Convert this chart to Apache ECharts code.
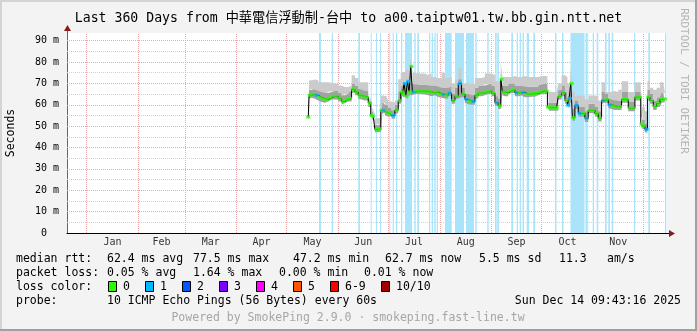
<!DOCTYPE html>
<html><head><meta charset="utf-8">
<script src="https://cdn.jsdelivr.net/npm/echarts@6/dist/echarts.min.js"></script>
<style>html,body{margin:0;padding:0;background:#f3f3f3}#c{width:697px;height:331px}</style>
</head><body><div id="c"></div>
<script>
const titleText = 'Last 360 Days from 中華電信浮動制-台中 to a00.taiptw01.tw.bb.gin.ntt.net';
const xStart = '2024-12-20 06:00';
const xEnd = '2025-12-15 06:00';
const monthStarts = ['2025-01-01','2025-02-01','2025-03-01','2025-04-01','2025-05-01','2025-06-01','2025-07-01','2025-08-01','2025-09-01','2025-10-01','2025-11-01','2025-12-01'];
const monthLabels = ['Jan','Feb','Mar','Apr','May','Jun','Jul','Aug','Sep','Oct','Nov'];
const monthLabelDates = ['2025-01-16 12:00','2025-02-15','2025-03-16 12:00','2025-04-16','2025-05-16 12:00','2025-06-16','2025-07-16 12:00','2025-08-16 12:00','2025-09-16','2025-10-16 12:00','2025-11-16'];
const yMax = 93.6;
const majorTicks = [10,20,30,40,50,60,70,80,90];
const minorTicks = [5,15,25,35,45,55,65,75,85];

const dates = ['2025-05-14','2025-05-15','2025-05-17','2025-05-19','2025-05-21','2025-05-23','2025-05-25','2025-05-27','2025-05-29','2025-05-31',
'2025-06-02','2025-06-04','2025-06-06','2025-06-08','2025-06-10','2025-06-12','2025-06-14','2025-06-16','2025-06-18','2025-06-20',
'2025-06-21','2025-06-22','2025-06-24','2025-06-26','2025-06-27','2025-06-28','2025-06-30','2025-07-02','2025-07-04','2025-07-06',
'2025-07-08','2025-07-09','2025-07-10','2025-07-11','2025-07-12','2025-07-13','2025-07-14','2025-07-15','2025-07-16','2025-07-18',
'2025-07-20','2025-07-22','2025-07-24','2025-07-26','2025-07-28','2025-07-30','2025-08-01','2025-08-03','2025-08-05','2025-08-07',
'2025-08-09','2025-08-11','2025-08-13','2025-08-15','2025-08-17','2025-08-19','2025-08-21','2025-08-23','2025-08-25','2025-08-27',
'2025-08-29','2025-08-31','2025-09-02','2025-09-04','2025-09-06','2025-09-07','2025-09-08','2025-09-10','2025-09-12','2025-09-14',
'2025-09-16','2025-09-18','2025-09-20','2025-09-22','2025-09-24','2025-09-26','2025-09-28','2025-09-30','2025-10-02','2025-10-04',
'2025-10-05','2025-10-06','2025-10-08','2025-10-10','2025-10-12','2025-10-14','2025-10-16','2025-10-17','2025-10-18','2025-10-19',
'2025-10-20','2025-10-22','2025-10-24','2025-10-26','2025-10-28','2025-10-30','2025-11-01','2025-11-03','2025-11-05','2025-11-07',
'2025-11-09','2025-11-11','2025-11-13','2025-11-15','2025-11-17','2025-11-19','2025-11-21','2025-11-23','2025-11-25','2025-11-27',
'2025-11-29','2025-11-30','2025-12-01','2025-12-03','2025-12-04','2025-12-06','2025-12-08','2025-12-10','2025-12-12','2025-12-14'];

const median = [54.3,64.5,64.9,64.4,63.6,62.9,62.5,63.2,64.0,64.0,
63.0,61.6,62.4,63.0,67.2,66.0,64.4,64.0,63.6,60.8,
55.0,54.6,48.4,48.8,57.4,57.4,56.6,56.0,55.0,57.5,
62.0,66.0,65.0,70.0,64.0,71.0,66.0,78.0,66.0,66.4,
66.4,66.4,66.2,66.0,65.6,66.0,65.2,64.8,64.5,65.5,
62.0,64.0,70.0,65.0,62.5,61.8,61.5,64.5,65.5,65.6,
66.0,66.5,65.5,61.0,59.5,72.0,66.0,65.6,66.5,67.0,
65.6,65.6,65.8,65.0,65.0,65.3,65.3,66.0,66.4,66.4,
59.0,58.7,58.7,58.7,64.0,65.6,62.0,59.8,63.0,70.0,
54.0,59.8,56.0,55.9,53.7,57.4,57.4,55.9,53.7,62.0,
62.5,60.0,59.5,59.1,59.1,62.5,62.5,58.4,58.4,63.6,
63.6,51.0,50.0,48.5,63.6,62.0,59.1,60.6,62.5,62.7];

const smokeLo = [53.5,63.0,63.3,62.8,62.0,61.3,61.0,61.6,62.5,62.5,
61.5,60.0,60.8,61.5,65.6,64.5,62.8,62.5,62.0,59.0,
53.5,53.0,47.0,47.3,56.0,56.0,55.0,54.5,53.5,56.0,
60.5,64.5,63.5,64.0,62.5,64.0,64.5,65.0,64.5,65.0,
65.0,65.0,64.8,64.5,64.0,64.5,63.7,63.3,63.0,64.0,
60.5,62.5,63.0,63.5,61.0,60.3,60.0,63.0,64.0,64.0,
64.5,65.0,64.0,59.5,58.0,66.0,64.5,64.0,65.0,65.5,
64.0,64.0,64.3,63.5,63.5,63.8,63.8,64.5,65.0,65.0,
57.5,57.2,57.2,57.2,62.5,64.0,60.5,58.3,61.5,60.0,
52.5,58.0,54.5,54.4,52.0,56.0,56.0,54.4,52.2,60.5,
61.0,58.5,58.0,57.6,57.6,61.0,61.0,57.0,57.0,62.0,
62.0,49.5,48.5,47.0,62.0,60.5,57.6,59.0,61.0,61.2];

const smokeMid = [55.0,67.0,67.5,67.0,66.5,66.0,65.5,66.0,66.5,66.5,
65.5,64.5,65.0,66.0,70.0,69.0,67.5,67.0,66.5,62.0,
57.0,56.5,50.5,51.0,61.0,61.0,60.0,58.5,57.5,60.0,
66.0,69.0,69.0,72.0,70.0,73.0,70.0,76.0,70.0,69.5,
69.5,69.5,69.5,69.0,69.0,69.0,68.5,68.0,68.0,68.5,
65.0,68.0,72.0,68.0,65.0,65.0,64.5,68.0,69.0,69.0,
69.5,70.0,69.0,64.0,63.0,75.0,69.0,69.0,70.0,70.0,
69.0,69.0,69.0,68.5,68.5,68.5,68.5,69.5,70.0,70.0,
61.0,61.0,61.0,61.0,67.0,69.0,66.0,63.0,66.0,72.0,
58.0,62.0,59.0,59.0,57.0,60.5,60.5,59.0,57.0,66.0,
65.0,63.0,62.5,62.0,62.0,66.0,66.0,61.5,61.5,66.0,
66.0,55.0,53.0,51.0,67.0,65.0,62.0,63.5,65.5,65.5];

const smokeHi = [55.5,71.5,71.8,71.5,70.5,70.5,70.5,70.3,70.0,70.0,
69.0,68.3,68.3,69.0,73.8,72.5,70.5,70.5,70.5,63.0,
58.5,58.0,53.7,54.0,64.4,64.4,64.0,61.5,61.0,62.0,
72.0,75.0,75.4,75.5,76.0,77.0,76.0,82.0,75.0,74.6,
74.6,74.6,74.0,74.6,73.0,72.5,72.5,75.0,72.5,73.0,
70.0,71.5,77.0,70.0,69.8,69.8,69.8,72.5,72.5,73.0,
74.6,74.6,74.0,71.0,71.0,80.0,73.0,73.0,73.0,73.5,
73.0,73.0,73.5,73.0,73.0,73.0,73.0,73.5,73.5,73.5,
66.0,66.0,66.0,66.0,70.0,73.8,73.0,70.0,70.0,77.0,
66.0,64.4,64.4,64.4,62.5,64.4,64.4,64.0,62.0,70.5,
66.0,66.0,66.5,66.0,67.0,71.0,71.0,66.0,66.0,70.5,
70.5,60.0,58.8,57.0,71.0,68.0,67.0,68.0,70.5,70.5];

const loss = [0,0,0,1,0,0,0,0,0,0,
0,0,0,0,0,0,0,0,0,0,
0,0,0,0,0,1,0,0,1,0,
0,0,0,1,0,1,0,0,1,0,
0,0,0,0,0,0,0,1,0,1,
0,0,1,0,1,0,1,0,0,0,
0,0,0,1,0,0,0,0,0,0,
1,0,1,0,0,0,0,0,0,0,
0,0,0,0,0,0,0,1,1,0,
0,1,1,0,1,0,0,0,0,1,
0,1,0,0,0,0,0,0,0,0,
0,0,0,1,0,0,0,0,0,0];

const outages = [
['2025-05-20 10:00','2025-05-21 15:00'],['2025-05-28 01:30','2025-05-28 20:00'],['2025-06-13 00:00','2025-06-14 01:00'],
['2025-06-20 11:00','2025-06-21 01:30'],['2025-06-23 15:30','2025-06-24 06:00'],['2025-06-26 01:00','2025-06-26 15:30'],
['2025-07-01 15:00','2025-07-02 05:00'],['2025-07-03 16:00','2025-07-04 08:00'],['2025-07-05 15:00','2025-07-06 10:00'],
['2025-07-08 15:00','2025-07-09 10:00'],['2025-07-11 01:00','2025-07-15 06:00'],['2025-07-16 15:00','2025-07-17 11:00'],
['2025-07-18 10:00','2025-07-19 10:30'],['2025-07-25 10:30','2025-07-26 05:00'],['2025-07-27 01:30','2025-07-27 20:00'],
['2025-07-28 15:00','2025-07-29 11:00'],['2025-07-30 01:30','2025-07-30 20:00'],['2025-08-04 01:00','2025-08-08 01:30'],
['2025-08-10 01:00','2025-08-15 10:30'],['2025-08-16 15:30','2025-08-21 10:30'],['2025-08-22 05:00','2025-08-23 01:30'],
['2025-08-29 10:00','2025-08-30 06:00'],['2025-09-03 01:00','2025-09-04 01:30'],['2025-09-04 10:00','2025-09-05 10:30'],
['2025-09-12 19:40','2025-09-13 20:00'],['2025-09-16 01:30','2025-09-16 20:00'],['2025-09-17 20:40','2025-09-18 15:30'],
['2025-09-19 13:00','2025-09-20 10:30'],['2025-09-22 01:30','2025-09-23 10:30'],['2025-09-26 00:30','2025-09-27 01:00'],
['2025-10-09 01:00','2025-10-09 22:30'],['2025-10-13 06:00','2025-10-14 03:30'],['2025-10-18 08:00','2025-10-26 18:00'],
['2025-10-27 08:00','2025-10-28 06:00'],['2025-10-28 10:00','2025-10-29 00:30'],['2025-10-31 16:00','2025-11-01 10:30'],
['2025-11-03 01:30','2025-11-04 00:30'],['2025-11-08 01:00','2025-11-09 01:30'],['2025-11-10 00:30','2025-11-11 01:00'],
['2025-11-12 01:30','2025-11-13 00:30'],['2025-11-25 10:30','2025-11-26 05:00'],['2025-12-04 00:30','2025-12-05 01:00'],
['2025-12-14 01:00','2025-12-14 20:00']];

const lossColors = ['#26ff00','#00b8ff','#0059ff','#7e00ff','#ff00ff','#ff5500','#ff0000','#a10000'];
const lossLabels = ['0','1','2','3','4','5','6-9','10/10'];
const medianStats = ['62.4 ms avg','77.5 ms max','47.2 ms min','62.7 ms now','5.5 ms sd','11.3','am/s'];
const lossStats = ['0.05 % avg','1.64 % max','0.00 % min','0.01 % now'];
const probeText = '10 ICMP Echo Pings (56 Bytes) every 60s';
const dateText = 'Sun Dec 14 09:43:16 2025';
const footerText = 'Powered by SmokePing 2.9.0 · smokeping.fast-line.tw';
const watermark = 'RRDTOOL / TOBI OETIKER';

// ---------- rendering ----------
const ts = s => echarts.time.parse(s).getTime();
const MONO = '"DejaVu Sans Mono", "Noto Sans CJK TC", monospace';
const majorColor = '#eeaaaa';
const minorColor = '#d2d2d2';

const T = dates.map(ts);
const gridLines = [].concat(
  majorTicks.map(v => ({yAxis: v, lineStyle: {color: majorColor, type: [1,1], width: 1}})),
  minorTicks.map(v => ({yAxis: v, lineStyle: {color: minorColor, type: [1,1], width: 1}})),
  monthStarts.map(d => ({xAxis: ts(d), lineStyle: {color: majorColor, type: [1,1], width: 1}}))
);

const font = (s) => s + 'px ' + MONO;
const legendFont = font(11.5);
const g = [];
// borders
g.push({type:'rect', shape:{x:0,y:0,width:697,height:2}, style:{fill:'#d4d4d4'}, silent:true, z:0});
g.push({type:'rect', shape:{x:0,y:0,width:2,height:331}, style:{fill:'#d4d4d4'}, silent:true, z:0});
g.push({type:'rect', shape:{x:695,y:0,width:2,height:331}, style:{fill:'#a0a0a0'}, silent:true, z:0});
g.push({type:'rect', shape:{x:0,y:329,width:697,height:2}, style:{fill:'#a0a0a0'}, silent:true, z:0});
// axis arrows
g.push({type:'line', shape:{x1:667,y1:233.5,x2:672,y2:233.5}, style:{stroke:'#000',lineWidth:1}, silent:true, z:50});
g.push({type:'polygon', shape:{points:[[669,230],[675,233.5],[669,237]]}, style:{fill:'#8b1a1a'}, silent:true, z:50});
g.push({type:'line', shape:{x1:67.5,y1:33,x2:67.5,y2:30}, style:{stroke:'#666',lineWidth:1}, silent:true, z:50});
g.push({type:'polygon', shape:{points:[[64,31],[67.5,25],[71,31]]}, style:{fill:'#8b1a1a'}, silent:true, z:50});
// watermark
g.push({type:'text', x:684, y:81, rotation:-Math.PI/2, style:{text:watermark, font:font(11), fill:'#b4b4b4', align:'center', verticalAlign:'middle'}, silent:true, z:50});
// legend rows
const rowY = [259.5, 273.5, 287, 301.3];
const txt = (text, x, y, align, fill) => ({type:'text', x, y, style:{text, font:legendFont, fill: fill || '#000', align: align || 'left', verticalAlign:'middle'}, silent:true, z:50});
g.push(txt('median rtt:', 16, rowY[0]));
const medX = [107, 193, 293, 385, 479, 559, 607];
medianStats.forEach((s,i) => g.push(txt(s, medX[i], rowY[0])));
g.push(txt('packet loss:', 16, rowY[1]));
const lossX = [107, 193, 279, 364];
lossStats.forEach((s,i) => g.push(txt(s, lossX[i], rowY[1])));
g.push(txt('loss color:', 16, rowY[2]));
const boxX = [108, 145, 182, 219, 256, 293, 330, 381];
lossLabels.forEach((s,i) => {
  g.push({type:'rect', shape:{x:boxX[i]+0.5, y:281.5, width:8, height:10}, style:{fill:lossColors[i], stroke:'#000', lineWidth:1}, silent:true, z:50});
  g.push(txt(s, boxX[i]+15, rowY[2]));
});
g.push(txt('probe:', 16, rowY[3]));
g.push(txt(probeText, 107, rowY[3]));
g.push(txt(dateText, 681, rowY[3], 'right'));
g.push(txt(footerText, 348, 318.3, 'center', '#a6a6a6'));

const chart = echarts.init(document.getElementById('c'), null, {renderer:'canvas'});
chart.setOption({
  animation: false,
  backgroundColor: '#f3f3f3',
  title: {text: titleText, left: 'center', top: 7, textStyle: {fontFamily: MONO, fontSize: 13.2, fontWeight: 'normal', color: '#000'}},
  grid: {left: 67, top: 33, width: 600, height: 200, containLabel: false, outerBoundsMode: 'none', backgroundColor: '#fff', show: true, borderWidth: 0},
  xAxis: {type: 'time', min: ts(xStart), max: ts(xEnd),
    axisLine: {show: true, onZero: false, lineStyle: {color: '#000', width: 1}},
    axisTick: {show: false}, axisLabel: {show: false}, splitLine: {show: false}},
  yAxis: {type: 'value', min: 0, max: yMax, interval: 10,
    name: 'Seconds', nameLocation: 'middle', nameGap: 50, nameRotate: 90,
    nameTextStyle: {fontFamily: MONO, fontSize: 11.5, color: '#000'},
    axisLine: {show: true, lineStyle: {color: '#666', width: 1}},
    axisTick: {show: false},
    axisLabel: {fontFamily: MONO, fontSize: 10, color: '#000', margin: 8,
      formatter: v => v === 0 ? '0  ' : (Math.abs(v % 10) < 1e-6 && v <= 90 ? v + ' m' : '')},
    splitLine: {show: false}},
  graphic: g,
  series: [
    {type: 'line', name: 'grid', data: [], silent: true, z: 1,
      markLine: {silent: true, z: 1, symbol: ['none','none'], label: {show: false}, animation: false, data: gridLines}},
    {type: 'line', name: 'outage', data: [], silent: true, z: 2,
      markArea: {silent: true, z: 2, itemStyle: {color: '#aae4fa'}, animation: false,
        data: outages.map(([a,b]) => [{xAxis: ts(a)}, {xAxis: ts(b)}])}},
    {type: 'line', name: 'lo', stack: 'smoke', step: 'middle', symbol: 'none', z: 3,
      lineStyle: {width: 0, opacity: 0}, data: T.map((t,i) => [t, smokeLo[i]])},
    {type: 'line', name: 'mid', stack: 'smoke', step: 'middle', symbol: 'none', z: 3,
      lineStyle: {width: 0, opacity: 0}, areaStyle: {color: '#a2a2a2', opacity: 1},
      data: T.map((t,i) => [t, +(smokeMid[i] - smokeLo[i]).toFixed(2)])},
    {type: 'line', name: 'hi', stack: 'smoke', step: 'middle', symbol: 'none', z: 3,
      lineStyle: {width: 0, opacity: 0}, areaStyle: {color: '#cbcbcb', opacity: 1},
      data: T.map((t,i) => [t, +(smokeHi[i] - smokeMid[i]).toFixed(2)])},
    {type: 'line', name: 'median', step: 'middle', symbol: 'none', z: 6,
      lineStyle: {color: '#000', width: 1}, data: T.map((t,i) => [t, median[i]])},
    {type: 'scatter', name: 'loss', symbol: 'rect', symbolSize: [4,3], z: 7,
      data: T.map((t,i) => ({value: [t, median[i]], itemStyle: {color: lossColors[loss[i]]}}))},
    {type: 'scatter', name: 'months', symbolSize: 1, z: 8, silent: true, clip: false,
      itemStyle: {color: 'rgba(0,0,0,0)'},
      label: {show: true, position: 'bottom', distance: 4, formatter: '{b}', fontFamily: MONO, fontSize: 10, color: '#000'},
      data: monthLabelDates.map((d,i) => ({name: monthLabels[i], value: [ts(d), 0]}))}
  ]
});
</script></body></html>
